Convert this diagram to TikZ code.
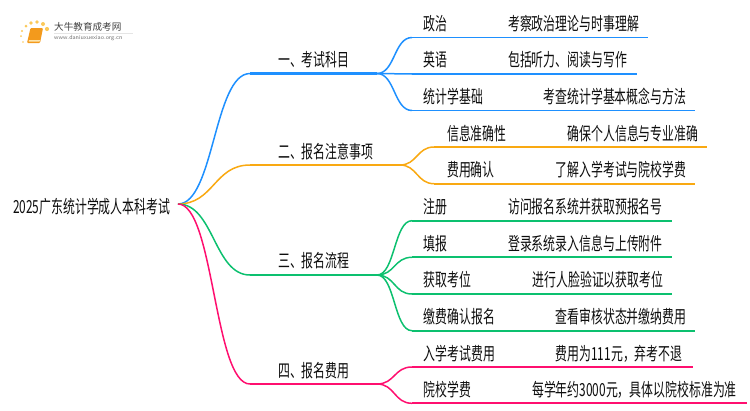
\documentclass[tikz,border=0pt]{standalone}
\usepackage{fontspec}
\usepackage{xcolor}
\newfontfamily\cjk[FakeStretch=.66]{Noto Sans CJK SC}
\newfontfamily\cjklogo{Noto Sans CJK SC}
\definecolor{bluebr}{HTML}{1E90FF}
\definecolor{orangebr}{HTML}{F9A912}
\definecolor{greenbr}{HTML}{0CC06F}
\definecolor{pinkbr}{HTML}{FF0F6F}
\definecolor{bookbody}{HTML}{F39A1C}
\definecolor{bookdot}{HTML}{FBC95A}
\usetikzlibrary{positioning}
\tikzset{
  lab/.style={font=\cjk\fontsize{18}{19}\selectfont, text=black!95, inner sep=0pt, anchor=west},
  fork/.style={line width=1.5pt},
  stem/.style={line width=2.1pt},
  leaf/.style={line width=1.9pt},
}
\begin{document}
\begin{tikzpicture}[x=1pt,y=-1pt]
      \useasboundingbox (0,0) rectangle (750,410);

      %% logo
      \fill[bookbody, rounded corners=1pt] (30.5,28) -- (43,28) -- (40,43) -- (27,43) -- cycle;
      \fill[bookdot!50!white] (29,40) -- (40,40) -- (39.6,41.5) -- (28.7,41.5) -- cycle;
      \foreach \dx/\dy/\r in {23/42/.9, 21/36/1, 22/31/1.2, 26/26/1.5, 31/23/1.8, 37/22/1.9, 43/24/2, 47/29/2.1}
        \fill[bookdot] (\dx,\dy) circle (\r);
      \node (logotitle) at (54,27) [lab, font=\cjklogo\fontsize{9.6}{10}\selectfont, text=black!75] {大牛教育成考网};
      \node (logourl) at (54,38.5) [lab, font=\fontsize{6.1}{7}\selectfont\sffamily, text=black!55] {www.daniuxuexiao.org.cn};
      \draw[black!10, line width=.5pt] (54,33) -- (133,33);

      %% root and main branches
      \node (root) at (13,207) [lab] {2025广东统计学成人本科考试};
      \coordinate (r) at (178,204);

      \node (one) at (278,60) [lab] {一、考试科目};
      \node (two) at (278,151.5) [lab] {二、报名注意事项};
      \node (three) at (278,260.5) [lab] {三、报名流程};
      \node (four) at (278,370.5) [lab] {四、报名费用};

      \coordinate (ones) at (250,73.5);
      \coordinate (onee) at (377,73.5);
      \coordinate (twos) at (250,165);
      \coordinate (twoe) at (400,165);
      \coordinate (threes) at (250,275);
      \coordinate (threee) at (377,275);
      \coordinate (fours) at (250,384);
      \coordinate (foure) at (377,384);

      \draw[bluebr, fork] (r) .. controls +(36,0) and +(-36,0) .. (ones);
      \draw[orangebr, fork] (r) .. controls +(36,0) and +(-36,0) .. (twos);
      \draw[greenbr, fork] (r) .. controls +(36,0) and +(-36,0) .. (threes);
      \draw[pinkbr, fork] (r) .. controls +(36,0) and +(-36,0) .. (fours);
      \draw[bluebr, stem] (ones) -- (onee);
      \draw[orangebr, stem] (twos) -- (twoe);
      \draw[greenbr, stem] (threes) -- (threee);
      \draw[pinkbr, stem] (fours) -- (foure);

      %% leaves of one
      \node (zz) at (423.5,23.5) [lab] {政治};
      \node (zzt) at (508,23.5) [lab] {考察政治理论与时事理解};
      \node (yy) at (423.5,60) [lab] {英语};
      \node (yyt) at (508,60) [lab] {包括听力、阅读与写作};
      \node (tj) at (423.5,97) [lab] {统计学基础};
      \node (tjt) at (543.5,97) [lab] {考查统计学基本概念与方法};
      \coordinate (zzs) at (412,37.5);
      \coordinate (zze) at (648,37.5);
      \coordinate (yys) at (412,74);
      \coordinate (yye) at (637,74);
      \coordinate (tjs) at (412,110.5);
      \coordinate (tje) at (695,110.5);
      \draw[bluebr, fork] (onee) .. controls +(18,0) and +(-18,0) .. (zzs);
      \draw[bluebr, fork] (onee) -- (yys);
      \draw[bluebr, fork] (onee) .. controls +(18,0) and +(-18,0) .. (tjs);
      \draw[bluebr, leaf] (zzs) -- (zze);
      \draw[bluebr, leaf] (yys) -- (yye);
      \draw[bluebr, leaf] (tjs) -- (tje);

      %% leaves of two
      \node (xx) at (447,133.5) [lab] {信息准确性};
      \node (xxt) at (567.5,133.5) [lab] {确保个人信息与专业准确};
      \node (fy) at (447,170) [lab] {费用确认};
      \node (fyt) at (555.5,170) [lab] {了解入学考试与院校学费};
      \coordinate (xxs) at (434,147);
      \coordinate (xxe) at (707,147);
      \coordinate (fys) at (434,183.7);
      \coordinate (fye) at (695,183.7);
      \draw[orangebr, fork] (twoe) .. controls +(17,0) and +(-17,0) .. (xxs);
      \draw[orangebr, fork] (twoe) .. controls +(17,0) and +(-17,0) .. (fys);
      \draw[orangebr, leaf] (xxs) -- (xxe);
      \draw[orangebr, leaf] (fys) -- (fye);

      %% leaves of three
      \node (zc) at (423.5,207) [lab] {注册};
      \node (zct) at (508,207) [lab] {访问报名系统并获取预报名号};
      \node (tb) at (423.5,243.5) [lab] {填报};
      \node (tbt) at (508,243.5) [lab] {登录系统录入信息与上传附件};
      \node (hq) at (423.5,280) [lab] {获取考位};
      \node (hqt) at (532.5,280) [lab] {进行人脸验证以获取考位};
      \node (jf) at (423.5,317) [lab] {缴费确认报名};
      \node (jft) at (555.5,317) [lab] {查看审核状态并缴纳费用};
      \coordinate (zcs) at (412,220.7);
      \coordinate (zce) at (672,220.7);
      \coordinate (tbs) at (412,257.3);
      \coordinate (tbe) at (672,257.3);
      \coordinate (hqs) at (412,294);
      \coordinate (hqe) at (672,294);
      \coordinate (jfs) at (412,330.7);
      \coordinate (jfe) at (695,330.7);
      \draw[greenbr, fork] (threee) .. controls +(18,0) and +(-18,0) .. (zcs);
      \draw[greenbr, fork] (threee) .. controls +(18,0) and +(-18,0) .. (tbs);
      \draw[greenbr, fork] (threee) .. controls +(18,0) and +(-18,0) .. (hqs);
      \draw[greenbr, fork] (threee) .. controls +(18,0) and +(-18,0) .. (jfs);
      \draw[greenbr, leaf] (zcs) -- (zce);
      \draw[greenbr, leaf] (tbs) -- (tbe);
      \draw[greenbr, leaf] (hqs) -- (hqe);
      \draw[greenbr, leaf] (jfs) -- (jfe);

      %% leaves of four
      \node (rx) at (423.5,353.5) [lab] {入学考试费用};
      \node (rxt) at (555.5,353.5) [lab] {费用为111元，弃考不退};
      \node (yx) at (423.5,390) [lab] {院校学费};
      \node (yxt) at (532,390) [lab] {每学年约3000元，具体以院校标准为准};
      \coordinate (rxs) at (412,367);
      \coordinate (rxe) at (693,367);
      \coordinate (yxs) at (412,403.3);
      \coordinate (yxe) at (747,403.3);
      \draw[pinkbr, fork] (foure) .. controls +(18,0) and +(-18,0) .. (rxs);
      \draw[pinkbr, fork] (foure) .. controls +(18,0) and +(-18,0) .. (yxs);
      \draw[pinkbr, leaf] (rxs) -- (rxe);
      \draw[pinkbr, leaf] (yxs) -- (yxe);

    \end{tikzpicture}
\end{document}
